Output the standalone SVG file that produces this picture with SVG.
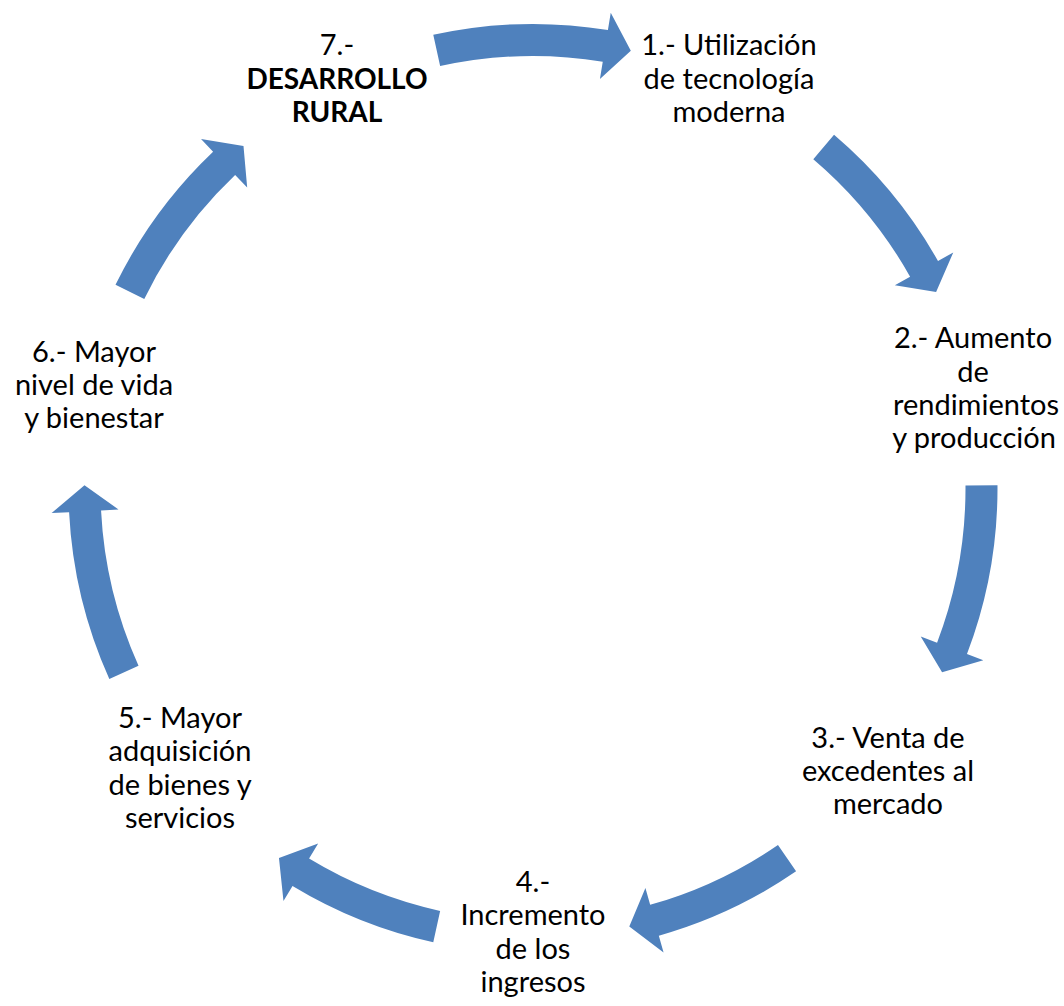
<svg xmlns="http://www.w3.org/2000/svg" width="1064" height="1006" viewBox="0 0 1064 1006">
<style>
.arr{fill:#4F81BD;stroke:none}
.t{font-family:Lato,"Liberation Sans",sans-serif;font-size:29px;fill:#000;text-anchor:middle}
.b{font-weight:bold;font-size:28px}
</style>
<rect width="1064" height="1006" fill="#fff"/>
<g id="connectors">
<path class="arr" d="M433.27,34.82 A464.5,464.5 0 0 1 607.92,30.08 L610.75,12.81 L630.82,50.81 L599.94,78.94 L602.76,61.67 A432.5,432.5 0 0 0 440.14,66.08 Z"/>
<path class="arr" d="M834.04,134.78 A464.5,464.5 0 0 1 938.0,261.03 L953.26,252.46 L936.11,291.88 L894.84,285.27 L910.10,276.70 A432.5,432.5 0 0 0 813.30,159.15 Z"/>
<path class="arr" d="M997.49,485.26 A464.5,464.5 0 0 1 966.98,654.05 L983.33,660.28 L942.08,672.34 L920.73,636.41 L937.08,642.64 A432.5,432.5 0 0 0 965.49,485.48 Z"/>
<path class="arr" d="M796.09,871.29 A464.5,464.5 0 0 1 658.83,935.63 L663.57,952.47 L629.29,926.55 L645.42,887.98 L650.16,904.82 A432.5,432.5 0 0 0 777.97,844.92 Z"/>
<path class="arr" d="M433.27,942.18 A464.5,464.5 0 0 1 292.53,885.93 L283.47,900.90 L278.97,858.11 L318.15,843.57 L309.09,858.55 A432.5,432.5 0 0 0 440.14,910.92 Z"/>
<path class="arr" d="M109.33,678.90 A464.5,464.5 0 0 1 69.10,512.14 L51.63,513.03 L84.51,485.37 L118.54,509.62 L101.06,510.51 A432.5,432.5 0 0 0 138.52,665.78 Z"/>
<path class="arr" d="M115.51,284.86 A464.5,464.5 0 0 1 213.10,151.74 L201.05,139.05 L243.49,145.94 L247.19,187.62 L235.14,174.94 A432.5,432.5 0 0 0 144.27,298.89 Z"/>
</g>
<g id="node7">
<text class="t" x="337" y="55">7.-</text>
<text class="t b" x="337" y="88.5">DESARROLLO</text>
<text class="t b" x="337" y="122">RURAL</text>
</g>
<g id="node1">
<text class="t" x="729" y="55">1.- Utilización</text>
<text class="t" x="729" y="88.5">de tecnología</text>
<text class="t" x="729" y="122">moderna</text>
</g>
<g id="node2">
<text class="t" x="973" y="348">2.- Aumento</text>
<text class="t" x="973" y="381.5">de</text>
<text class="t" x="976" y="415">rendimientos</text>
<text class="t" x="974" y="448">y producción</text>
</g>
<g id="node3">
<text class="t" x="888" y="748">3.- Venta de</text>
<text class="t" x="888" y="781">excedentes al</text>
<text class="t" x="888" y="814">mercado</text>
</g>
<g id="node4">
<text class="t" x="533" y="892">4.-</text>
<text class="t" x="533" y="925">Incremento</text>
<text class="t" x="533" y="959">de los</text>
<text class="t" x="533" y="992">ingresos</text>
</g>
<g id="node5">
<text class="t" x="180" y="728">5.- Mayor</text>
<text class="t" x="180" y="761">adquisición</text>
<text class="t" x="180" y="795">de bienes y</text>
<text class="t" x="180" y="828">servicios</text>
</g>
<g id="node6">
<text class="t" x="94" y="362">6.- Mayor</text>
<text class="t" x="94" y="395">nivel de vida</text>
<text class="t" x="94" y="428">y bienestar</text>
</g>
</svg>
